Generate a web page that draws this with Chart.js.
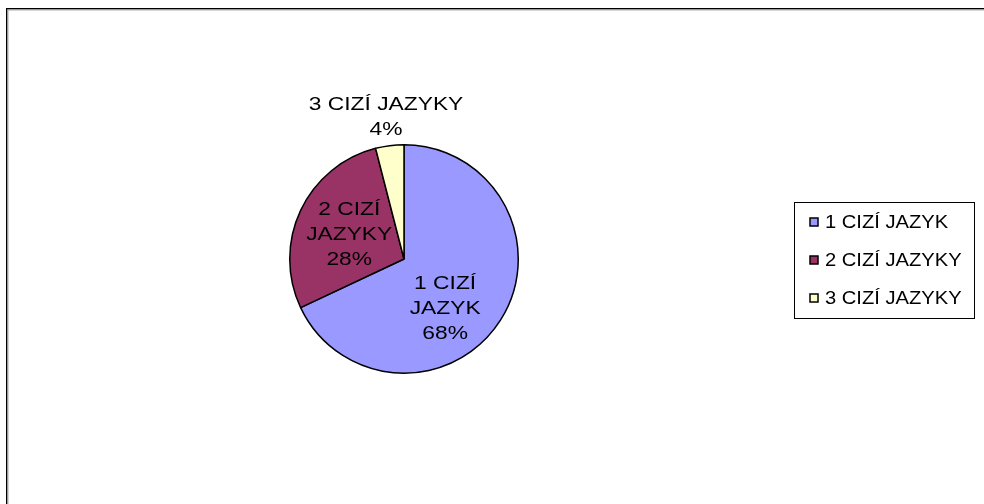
<!DOCTYPE html>
<html>
<head>
<meta charset="utf-8">
<script src="https://cdn.jsdelivr.net/npm/chart.js@4.4.1/dist/chart.umd.min.js"></script>
<style>
  html, body { margin: 0; padding: 0; background: #ffffff; }
  #chart { display: block; }
</style>
</head>
<body>
<canvas id="chart" width="984" height="504"></canvas>
<script>
// data
const categories = ['1 CIZÍ JAZYK', '2 CIZÍ JAZYKY', '3 CIZÍ JAZYKY'];
const values = [68, 28, 4];
const sliceLabelLines = [['1 CIZÍ', 'JAZYK'], ['2 CIZÍ', 'JAZYKY'], ['3 CIZÍ JAZYKY']];
const colors = ['#9999ff', '#993366', '#ffffcc'];

const FONT = '"Liberation Sans", Arial, sans-serif';

// text in the picture is a bit wider than Arial, so stretch it
function stretchText(ctx, text, x, y, sx) {
    ctx.save();
    ctx.translate(x, y);
    ctx.scale(sx, 1);
    ctx.fillText(text, 0, 0);
    ctx.restore();
}

const framePlugin = {
    id: 'frame',
    beforeDraw(chart) {
        const ctx = chart.ctx;
        ctx.save();
        ctx.fillStyle = '#000000';
        ctx.fillRect(6, 8, chart.width - 6, 1.4);
        ctx.fillRect(6, 8, 1.4, chart.height - 8);
        ctx.fillStyle = '#9a9a9a';
        ctx.fillRect(7.4, 9.4, chart.width - 7, 1);
        ctx.fillRect(7.4, 9.4, 1, chart.height - 9);
        ctx.restore();
    }
};

const sliceLabels = {
    id: 'sliceLabels',
    afterDatasetsDraw(chart, args, opts) {
        const ctx = chart.ctx;
        const meta = chart.getDatasetMeta(0);
        const data = chart.data.datasets[0].data;
        const total = data.reduce((a, b) => a + b, 0);
        ctx.save();
        ctx.fillStyle = '#000000';
        ctx.font = opts.size + 'px ' + FONT;
        ctx.textAlign = 'center';
        ctx.textBaseline = 'middle';
        meta.data.forEach((arc, i) => {
            const p = arc.getProps(['x', 'y', 'startAngle', 'endAngle', 'outerRadius'], true);
            const mid = (p.startAngle + p.endAngle) / 2;
            const r = opts.radius[i] < 1 ? p.outerRadius * opts.radius[i] : p.outerRadius + opts.outside;
            const cx = p.x + Math.cos(mid) * r + opts.shift[i][0];
            const cy = p.y + Math.sin(mid) * r + opts.shift[i][1];
            const lines = sliceLabelLines[i].concat([Math.round(data[i] / total * 100) + '%']);
            const top = cy - (lines.length - 1) * opts.lineHeight / 2;
            lines.forEach((t, k) => {
                stretchText(ctx, t, cx, top + k * opts.lineHeight, opts.sx);
            });
        });
        ctx.restore();
    }
};

const boxLegend = {
    id: 'boxLegend',
    afterDraw(chart, args, opts) {
        const ctx = chart.ctx;
        const ds = chart.data.datasets[0];
        ctx.save();
        ctx.strokeStyle = '#000000';
        ctx.lineWidth = 1;
        ctx.strokeRect(opts.x + 0.5, opts.y + 0.5, opts.w, opts.h);
        ctx.font = opts.size + 'px ' + FONT;
        ctx.textAlign = 'left';
        ctx.textBaseline = 'middle';
        chart.data.labels.forEach((lab, i) => {
            const cy = opts.firstRow + i * opts.rowGap;
            ctx.fillStyle = ds.backgroundColor[i];
            ctx.fillRect(opts.x + 16, cy - 4, 8, 8);
            ctx.strokeStyle = '#000000';
            ctx.lineWidth = 1.5;
            ctx.strokeRect(opts.x + 16, cy - 4, 8, 8);
            ctx.fillStyle = '#000000';
            stretchText(ctx, lab, opts.x + 31, cy + 1, opts.sx);
        });
        ctx.restore();
    }
};

new Chart(document.getElementById('chart').getContext('2d'), {
    type: 'pie',
    data: {
        labels: categories,
        datasets: [{
            data: values,
            backgroundColor: colors,
            borderColor: '#000000',
            borderWidth: 1.5,
            hoverBorderWidth: 1.5
        }]
    },
    options: {
        responsive: false,
        animation: false,
        devicePixelRatio: 1,
        events: [],
        layout: {
            padding: { left: 289, right: 465, top: 144, bottom: 130 }
        },
        plugins: {
            legend: { display: false },
            tooltip: { enabled: false },
            sliceLabels: {
                size: 19,
                sx: 1.2,
                lineHeight: 25,
                radius: [0.53, 0.53, 2],
                outside: 29,
                shift: [[-10, 17], [0, 2], [0, 0]]
            },
            boxLegend: {
                x: 794, y: 202, w: 180, h: 116,
                firstRow: 222, rowGap: 38,
                size: 18, sx: 1.12
            }
        }
    },
    plugins: [framePlugin, sliceLabels, boxLegend]
});
</script>
</body>
</html>
